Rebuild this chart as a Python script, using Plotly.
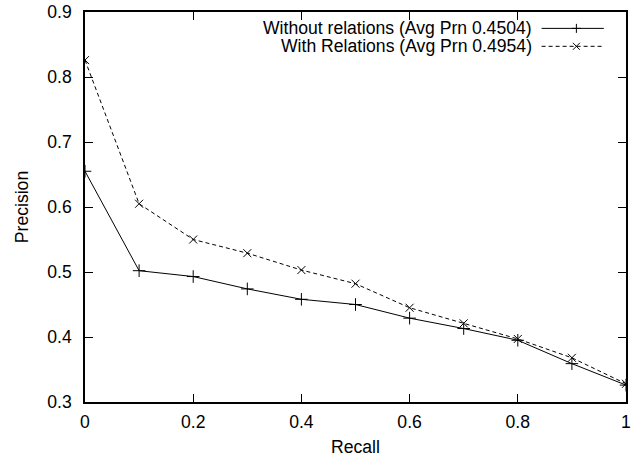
import plotly.graph_objects as go

recall = [0.0, 0.1, 0.2, 0.3, 0.4, 0.5, 0.6, 0.7, 0.8, 0.9, 1.0]
without_rel = [0.655, 0.502, 0.493, 0.474, 0.458, 0.450, 0.429, 0.413, 0.395, 0.359, 0.326]
with_rel = [0.826, 0.605, 0.550, 0.529, 0.503, 0.482, 0.445, 0.421, 0.397, 0.368, 0.328]
series_names = ["Without relations (Avg Prn 0.4504)", "With Relations (Avg Prn 0.4954)"]
x_ticks = [0, 0.2, 0.4, 0.6, 0.8, 1]
x_tick_labels = ["0", "0.2", "0.4", "0.6", "0.8", "1"]
y_ticks = [0.3, 0.4, 0.5, 0.6, 0.7, 0.8, 0.9]
y_tick_labels = ["0.3", "0.4", "0.5", "0.6", "0.7", "0.8", "0.9"]

FONT = "Liberation Sans, Arial, Helvetica, sans-serif"
FS = 17.6
DASH = "4px,3px"

fig = go.Figure()
fig.add_trace(go.Scatter(
    x=recall, y=without_rel, mode="lines+markers", name=series_names[0],
    line=dict(color="black", width=1),
    marker=dict(symbol="cross-thin", size=9, color="black", line=dict(color="black", width=1)),
    showlegend=False,
))
fig.add_trace(go.Scatter(
    x=recall, y=with_rel, mode="lines+markers", name=series_names[1],
    line=dict(color="black", width=1, dash=DASH),
    marker=dict(symbol="x-thin", size=8, color="black", line=dict(color="black", width=1)),
    showlegend=False,
))

# manual gnuplot-style legend (text right, sample on the right)
rows_y = [0.958, 0.912]
text_x = 0.830
s0, s1, sm = 0.844, 0.959, 0.9083
shapes = []
annotations = []
for i, (name, yy) in enumerate(zip(series_names, rows_y)):
    annotations.append(dict(
        x=text_x, y=yy, xref="paper", yref="paper", text=name, showarrow=False,
        xanchor="right", yanchor="middle", font=dict(family=FONT, size=FS, color="black"),
    ))
    shapes.append(dict(
        type="line", xref="paper", yref="paper", x0=s0, x1=s1, y0=yy, y1=yy,
        line=dict(color="black", width=1, dash="solid" if i == 0 else DASH),
    ))
    if i == 0:
        segs = [(-4.5, 0, 4.5, 0), (0, -4.5, 0, 4.5)]
    else:
        segs = [(-3.5, -3.5, 3.5, 3.5), (-3.5, 3.5, 3.5, -3.5)]
    for (a, b, c, d) in segs:
        shapes.append(dict(
            type="line", xref="paper", yref="paper",
            xsizemode="pixel", ysizemode="pixel", xanchor=sm, yanchor=yy,
            x0=a, y0=b, x1=c, y1=d, line=dict(color="black", width=1),
        ))

axis_common = dict(
    showgrid=False, zeroline=False, showline=True, linecolor="black", linewidth=1.5,
    mirror="ticks", ticks="inside", ticklen=8, tickwidth=1, tickcolor="black",
    tickfont=dict(family=FONT, size=FS, color="black"), automargin=False,
)

fig.update_layout(
    width=633, height=457,
    margin=dict(l=85, r=7, t=12, b=55),
    paper_bgcolor="white", plot_bgcolor="white",
    font=dict(family=FONT, size=FS, color="black"),
    xaxis=dict(range=[0, 1], tickmode="array", tickvals=x_ticks, ticktext=x_tick_labels,
               title=dict(text="Recall", font=dict(family=FONT, size=FS), standoff=10),
               ticklabelstandoff=3, **axis_common),
    yaxis=dict(range=[0.3, 0.9], tickmode="array", tickvals=y_ticks, ticktext=y_tick_labels,
               title=dict(text="Precision", font=dict(family=FONT, size=FS), standoff=14),
               ticklabelstandoff=8, **axis_common),
    shapes=shapes, annotations=annotations,
)

fig.write_html(
    "out.html",
    config={"displayModeBar": False},
    post_script="document.body.style.margin='0';document.body.style.overflow='hidden';",
)
